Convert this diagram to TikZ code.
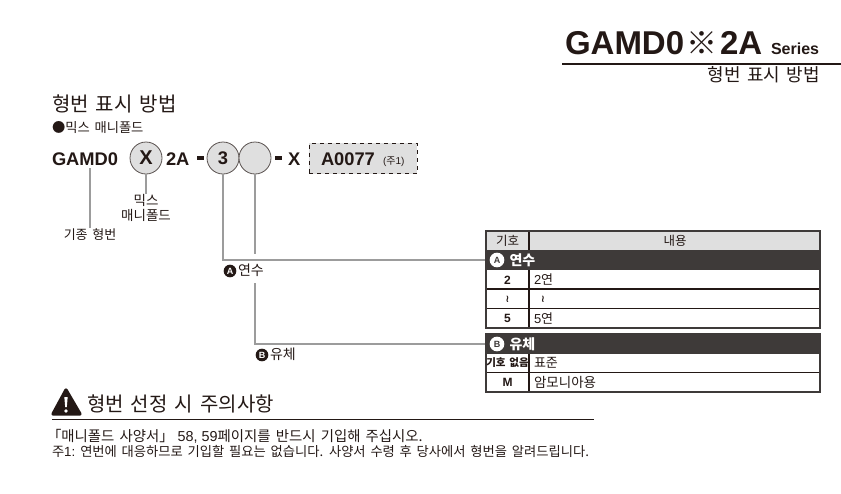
\documentclass[tikz,border=0pt]{standalone}
\usepackage{fontspec}
\setmainfont{Liberation Sans}
\newfontfamily\kr[WordSpace=1.6]{Noto Sans CJK KR}
\newfontfamily\dv{DejaVu Sans}
\newcommand{\K}[1]{{\kr #1}}
\newcommand{\px}[1]{\fontsize{\dimexpr#1pt*3/4\relax}{\dimexpr#1pt\relax}\selectfont}
\definecolor{ink}{HTML}{231815}
\definecolor{bar}{HTML}{3E3A39}
\definecolor{leader}{HTML}{9C9C9C}
\definecolor{pale}{HTML}{DFDFDF}
\tikzset{
  every node/.style={inner sep=0pt,outer sep=0pt,text=ink},
  ring/.style={circle,draw=ink!75,line width=0.6pt,fill=pale,minimum size=24pt},
  leadline/.style={draw=leader,line width=1.4pt},
  frame/.style={draw=bar,line width=1.6pt},
  cell/.style={draw=ink,line width=0.8pt},
  badge/.style={circle,fill=ink,text=white,minimum size=9.5pt,font=\bfseries\px{9}},
  badgew/.style={circle,fill=white,text=bar,minimum size=11pt,font=\bfseries\px{9}},
  dashbit/.style={fill=ink},
}
\begin{document}
\begin{tikzpicture}[x=0.75pt,y=-0.75pt]
\useasboundingbox (0,0) rectangle (841,493);
% title
\node[anchor=base west,font=\bfseries\px{33}] (t1) at (565,54) {GAMD0};
\node[anchor=base,font=\px{31}] (t2) at (702,54) {\K{※}};
\node[anchor=base west,font=\bfseries\px{33}] (t3) at (720,54) {2A};
\node[anchor=base west,font=\bfseries\px{16}] (t4) at (771,54) {Series};
\draw[ink,line width=1.5pt] (562,63.5) -- (841,63.5);
\node[anchor=base east,font=\px{18}] (sub) at (820,81) {\K{형번 표시 방법}};
% heading
\node[anchor=base west,font=\px{20}] (h1) at (52,111) {\K{형번 표시 방법}};
\node[anchor=base west,font=\px{13.3}] (h2) at (52,132) {\K{●믹스 매니폴드}};
% code
\node[anchor=base west,font=\bfseries\px{18.3}] (gamd) at (52,165) {GAMD0};
\node[ring,font=\bfseries\px{20}] (cx) at (146,158) {X};
\node[anchor=base west,font=\bfseries\px{18.3}] (twoa) at (166,165) {2A};
\path[dashbit] (197,156) rectangle (204,160);
\node[ring,font=\bfseries\px{18.3}] (c3) at (223,158) {3};
\node[ring] (ce) at (255,158) {};
\path[dashbit] (275,156) rectangle (282,160);
\node[anchor=base west,font=\bfseries\px{18.3}] (xx) at (288,165) {X};
\node[draw=ink,dashed,line width=0.7pt,fill=pale,minimum width=81pt,minimum height=23pt] (bx) at (363,158.5) {};
\node[anchor=base west,font=\bfseries\px{18.3}] (code) at (321,165) {A0077};
\node[anchor=base west,font=\px{10}] (note) at (383,164) {(\K{주}1)};
% labels
\node[font=\px{13.5}] (l1) at (146,200.5) {\K{믹스}};
\node[font=\px{13.5}] (l2) at (146,215.5) {\K{매니폴드}};
\node[font=\px{13}] (l3) at (90,235) {\K{기종 형번}};
\coordinate (g1) at (90,168);
\coordinate (g2) at (90,228);
\coordinate (m2) at (146,194);
\coordinate (a1) at (223,260);
\coordinate (ae) at (255,254);
\coordinate (b0) at (255,283);
\coordinate (b1) at (255,344);
\coordinate (ta) at (486,260);
\coordinate (tb) at (486,344);
\draw[leadline] (g1) -- (g2);
\draw[leadline] (cx) -- (m2);
\draw[leadline] (c3) -- (a1) -- (ta);
\draw[leadline] (ce) -- (ae);
\draw[leadline] (b0) -- (b1) -- (tb);
\node[badge] (ba) at (230,271) {A};
\node[anchor=west,font=\px{14}] (la) at (238,270.5) {\K{연수}};
\node[badge] (bb) at (262,355) {B};
\node[anchor=west,font=\px{14}] (lb) at (270,354.5) {\K{유체}};
% table A
\path[fill=pale] (486,231) rectangle (820,250);
\path[fill=bar] (486,250) rectangle (820,270);
\path[fill=white] (486,270) rectangle (820,328);
\draw[cell] (486,289) -- (820,289) (486,308.5) -- (820,308.5) (529,231) -- (529,250) (529,270) -- (529,328);
\draw[frame] (486,231) rectangle (820,328);
\node[font=\px{12.5}] (th1) at (507.5,241) {\K{기호}};
\node[font=\px{12.5}] (th2) at (675,241) {\K{내용}};
\node[badgew] (wa) at (497,260) {A};
\node[anchor=west,text=white,font=\bfseries\px{14}] (ra) at (509.5,260) {\K{\bfseries 연수}};
\node[font=\bfseries\px{12}] (r21) at (507.5,280) {2};
\node[anchor=west,font=\px{13}] (r22) at (534,280) {2\K{연}};
\node[font=\dv\bfseries\px{10}] (r31) at (507.5,299) {≀};
\node[font=\dv\bfseries\px{10}] (r32) at (543,299) {≀};
\node[font=\bfseries\px{12}] (r41) at (507.5,318.5) {5};
\node[anchor=west,font=\px{13}] (r42) at (534,318.5) {5\K{연}};
% table B
\path[fill=bar] (486,334) rectangle (820,354);
\path[fill=white] (486,354) rectangle (820,392);
\draw[cell] (486,372.5) -- (820,372.5) (529,354) -- (529,392);
\draw[frame] (486,334) rectangle (820,392);
\node[badgew] (wb) at (497,344) {B};
\node[anchor=west,text=white,font=\bfseries\px{14}] (rb) at (509.5,344) {\K{\bfseries 유체}};
\node[font=\px{10.5}] (s1) at (507.5,363) {\K{\bfseries 기호 없음}};
\node[anchor=west,font=\px{13}] (s2) at (534,363) {\K{표준}};
\node[font=\bfseries\px{12}] (s3) at (507.5,382) {M};
\node[anchor=west,font=\px{13.5}] (s4) at (534,382) {\K{암모니아용}};
% caution
\draw[ink,fill=ink,line width=2.5pt,line join=round] (66,390) -- (80,414) -- (53,414) -- cycle;
\path[fill=white] (64.3,397) -- (67.7,397) -- (66.8,407) -- (65.2,407) -- cycle;
\path[fill=white] (66,411) circle (1.9);
\node[anchor=base west,font=\px{20}] (c1) at (87,411) {\K{형번 선정 시 주의사항}};
\draw[ink,line width=0.8pt] (52,419.5) -- (594,419.5);
\node[anchor=base west,font=\px{14.4}] (c2) at (47,441) {\K{「매니폴드 사양서」} 58, 59\K{페이지를 반드시 기입해 주십시오.}};
\node[anchor=base west,font=\px{13.3}] (c3t) at (52,456) {\K{주}1: \K{연번에 대응하므로 기입할 필요는 없습니다. 사양서 수령 후 당사에서 형번을 알려드립니다.}};
\end{tikzpicture}
\end{document}
